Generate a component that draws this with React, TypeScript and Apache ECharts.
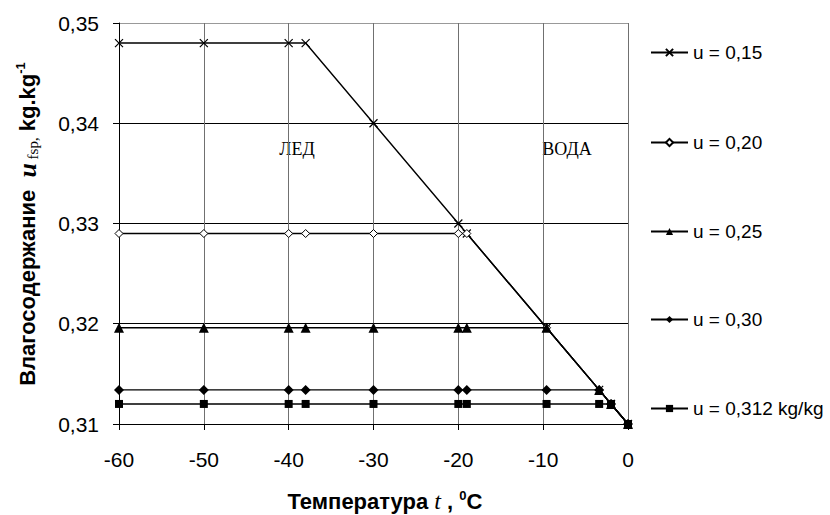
import React, { useEffect, useRef } from "react";
import * as echarts from "echarts";

const temps = [-60, -50, -40, -38, -30, -20, -19, -9.6, -3.4, -2, 0];
const u015 = [0.348, 0.348, 0.348, 0.348, 0.34, 0.33, 0.329, 0.3196, 0.3134, 0.312, 0.31];
const u020 = [0.329, 0.329, 0.329, 0.329, 0.329, 0.329, 0.329, 0.3196, 0.3134, 0.312, 0.31];
const u025 = [0.3196, 0.3196, 0.3196, 0.3196, 0.3196, 0.3196, 0.3196, 0.3196, 0.3134, 0.312, 0.31];
const u030 = [0.3134, 0.3134, 0.3134, 0.3134, 0.3134, 0.3134, 0.3134, 0.3134, 0.3134, 0.312, 0.31];
const u0312 = [0.312, 0.312, 0.312, 0.312, 0.312, 0.312, 0.312, 0.312, 0.312, 0.312, 0.31];
const seriesNames = ["u = 0,15", "u = 0,20", "u = 0,25", "u = 0,30", "u = 0,312 kg/kg"];
const xTicks = { min: -60, max: 0, interval: 10 };
const yTicks = { min: 0.31, max: 0.35, interval: 0.01 };

const SANS = "'Liberation Sans', Arial, sans-serif";
const SERIF = "'Liberation Serif', 'Times New Roman', serif";

export default function App() {
  const ref = useRef<HTMLDivElement>(null);
  useEffect(() => {
    document.body.style.margin = "0";
    const chart = echarts.init(ref.current!, null, { renderer: "svg" });
    const zip = (ys: number[]) => temps.map((t, i) => [t, ys[i]]);
    const values = [u015, u020, u025, u030, u0312];
    const symbols: any[] = [
      { symbol: "path://M0,0L10,10M10,0L0,10", size: 8, item: { color: "#000", borderColor: "#000", borderWidth: 1.2 } },
      { symbol: "diamond", size: 8, item: { color: "#fff", borderColor: "#000", borderWidth: 1 } },
      { symbol: "triangle", size: 10, item: { color: "#000" } },
      { symbol: "diamond", size: 10, item: { color: "#000" } },
      { symbol: "rect", size: 8, item: { color: "#000" } },
    ];
    const legendCenters = [48, 138, 227, 315, 404];
    const option: any = {
      animation: false,
      grid: { left: 119, right: 202, top: 23, bottom: 91, containLabel: false },
      xAxis: {
        type: "value",
        min: xTicks.min,
        max: xTicks.max,
        interval: xTicks.interval,
        axisLine: { onZero: false, lineStyle: { color: "#000", width: 1 } },
        axisTick: { show: true, length: 6, lineStyle: { color: "#000" } },
        axisLabel: { color: "#000", fontSize: 21, fontFamily: SANS, margin: 25 },
        splitLine: { show: true, lineStyle: { color: "#707070", width: 1 } },
      },
      yAxis: {
        type: "value",
        min: yTicks.min,
        max: yTicks.max,
        interval: yTicks.interval,
        axisLine: { show: true, onZero: false, lineStyle: { color: "#000", width: 1 } },
        axisTick: { show: true, length: 6, lineStyle: { color: "#000" } },
        axisLabel: {
          color: "#000",
          fontSize: 21,
          fontFamily: SANS,
          margin: 20,
          formatter: (v: number) => v.toFixed(2).replace(".", ","),
        },
        splitLine: { show: true, lineStyle: { color: ["#000", "#000", "#000", "#000", "#999"], width: 1 } },
      },
      legend: seriesNames.map((n, i) => ({
        data: [n],
        left: 645,
        top: legendCenters[i] - 10,
        orient: "vertical",
        itemWidth: 37,
        itemHeight: 9,
        itemGap: 0,
        textStyle: { color: "#000", fontSize: 19, fontFamily: SANS },
      })),
      series: seriesNames.map((n, i) => ({
        name: n,
        type: "line",
        data: zip(values[i]),
        symbol: symbols[i].symbol,
        symbolSize: symbols[i].size,
        showAllSymbol: true,
        lineStyle: { color: "#000", width: 1.4 },
        itemStyle: symbols[i].item,
        emphasis: { disabled: true },
        z: 2 + i,
      })),
      graphic: [
        {
          type: "text",
          x: 297,
          y: 149,
          style: { text: "ЛЕД", font: `18px ${SERIF}`, fill: "#000", align: "center", verticalAlign: "middle" },
        },
        {
          type: "text",
          x: 567,
          y: 149,
          style: { text: "ВОДА", font: `18px ${SERIF}`, fill: "#000", align: "center", verticalAlign: "middle" },
        },
        {
          type: "text",
          x: 27,
          y: 224,
          rotation: Math.PI / 2,
          style: {
            text: "{b|Влагосодержание  }{i|u}{s| fsp,}{b| kg.kg}{sup|-1}",
            align: "center",
            verticalAlign: "middle",
            rich: {
              b: { fontSize: 22, fontWeight: "bold", fontFamily: SANS, fill: "#000" },
              i: { fontSize: 26, fontStyle: "italic", fontWeight: "bold", fontFamily: SERIF, fill: "#000" },
              s: { fontSize: 15, fontFamily: SERIF, fill: "#000", verticalAlign: "bottom" },
              sup: { fontSize: 13, fontWeight: "bold", fontFamily: SANS, fill: "#000", verticalAlign: "top" },
            },
          },
        },
        {
          type: "text",
          x: 385,
          y: 501,
          style: {
            text: "{b|Температура }{i|t}{b| , }{sup|0}{b|C}",
            align: "center",
            verticalAlign: "middle",
            rich: {
              b: { fontSize: 22, fontWeight: "bold", fontFamily: SANS, fill: "#000" },
              i: { fontSize: 24, fontStyle: "italic", fontFamily: SERIF, fill: "#000" },
              sup: { fontSize: 13, fontWeight: "bold", fontFamily: SANS, fill: "#000", verticalAlign: "top" },
            },
          },
        },
      ],
    };
    chart.setOption(option);
    return () => chart.dispose();
  }, []);
  return <div ref={ref} style={{ position: "absolute", left: 0, top: 0, width: 830, height: 515 }} />;
}
